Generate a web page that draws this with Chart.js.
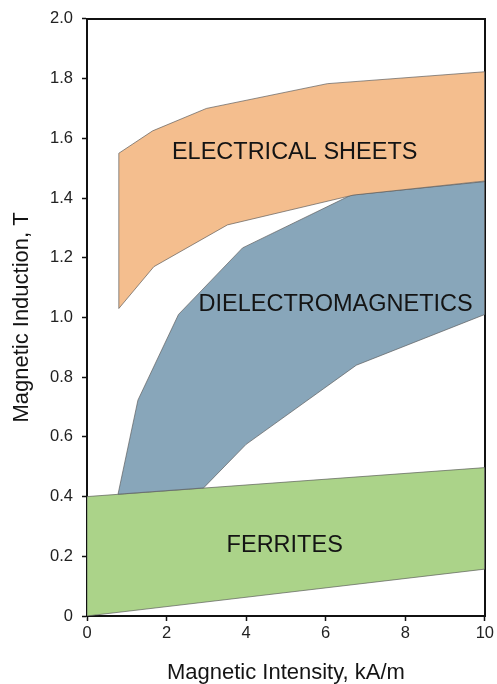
<!DOCTYPE html>
<html>
<head>
<meta charset="utf-8">
<script src="https://cdn.jsdelivr.net/npm/chart.js@4/dist/chart.umd.min.js"></script>
<style>
  html, body { margin: 0; padding: 0; background: #ffffff; }
  #wrap { width: 497px; height: 684px; position: relative; }
</style>
</head>
<body>
<div id="wrap"><canvas id="chart"></canvas></div>
<script>
// Axis ticks
const xTickLabels = ['0', '2', '4', '6', '8', '10'];
const yTickLabels = ['0', '0.2', '0.4', '0.6', '0.8', '1.0', '1.2', '1.4', '1.6', '1.8', '2.0'];

// Electrical sheets band: upper and lower boundary, H in kA/m, B in T
const sheetsUpperH = [0.8, 1.65, 3.0, 6.04, 10];
const sheetsUpperB = [1.55, 1.625, 1.70, 1.783, 1.823];
const sheetsLowerH = [0.8, 1.68, 3.53, 6.7, 10];
const sheetsLowerB = [1.03, 1.17, 1.31, 1.41, 1.457];

// Dielectromagnetics band
const dielUpperH = [0.78, 1.28, 2.3, 3.91, 6.64, 10];
const dielUpperB = [0.408, 0.723, 1.01, 1.233, 1.41, 1.455];
const dielLowerH = [0.78, 2.93, 4.0, 6.77, 10];
const dielLowerB = [0.408, 0.429, 0.575, 0.84, 1.01];

// Ferrites band
const ferritesUpperH = [0, 10];
const ferritesUpperB = [0.40, 0.497];
const ferritesLowerH = [0, 10];
const ferritesLowerB = [0, 0.157];

// Region names
const regionNames = ['ELECTRICAL SHEETS', 'DIELECTROMAGNETICS', 'FERRITES'];

// Closed outline: upper edge left to right, lower edge right to left
function band(upH, upB, loH, loB) {
  const pts = upH.map((h, i) => ({ x: h, y: upB[i] }));
  for (let i = loH.length - 1; i >= 0; i--) pts.push({ x: loH[i], y: loB[i] });
  pts.push({ x: upH[0], y: upB[0] });
  return pts;
}

const FONT = '"Liberation Sans", Arial, Helvetica, sans-serif';
const outline = 'rgba(90,90,90,0.85)';

function region(label, data, color) {
  return {
    label, data,
    fill: 'shape',
    backgroundColor: color,
    borderColor: outline,
    borderWidth: 0.8,
    pointRadius: 0,
    pointHoverRadius: 0,
    tension: 0
  };
}

// Region captions placed in data coordinates
const captionPlugin = {
  id: 'captions',
  afterDatasetsDraw(chart, args, opts) {
    const { ctx, scales: { x, y } } = chart;
    ctx.save();
    ctx.font = opts.size + 'px ' + FONT;
    ctx.fillStyle = '#141414';
    ctx.textAlign = 'center';
    ctx.textBaseline = 'middle';
    opts.items.forEach(it => {
      ctx.fillText(it.text, x.getPixelForValue(it.h), y.getPixelForValue(it.b));
    });
    ctx.restore();
  }
};

new Chart(document.getElementById('chart'), {
  type: 'line',
  data: {
    datasets: [
      region(regionNames[0], band(sheetsUpperH, sheetsUpperB, sheetsLowerH, sheetsLowerB), '#F4BE8E'),
      region(regionNames[1], band(dielUpperH, dielUpperB, dielLowerH, dielLowerB), '#88A6BA'),
      region(regionNames[2], band(ferritesUpperH, ferritesUpperB, ferritesLowerH, ferritesLowerB), '#ABD389')
    ]
  },
  plugins: [captionPlugin],
  options: {
    responsive: true,
    maintainAspectRatio: false,
    animation: false,
    events: [],
    layout: { padding: { left: 0, top: 16, right: 11, bottom: 0 } },
    plugins: {
      legend: { display: false },
      tooltip: { enabled: false },
      captions: {
        size: 23.5,
        items: [
          { text: regionNames[0], h: 5.22, b: 1.552 },
          { text: regionNames[1], h: 6.25, b: 1.042 },
          { text: regionNames[2], h: 4.97, b: 0.237 }
        ]
      }
    },
    scales: {
      x: {
        type: 'linear',
        position: 'bottom',
        min: 0, max: 10,
        afterFit(s) { s.height = 68; },
        ticks: {
          stepSize: 2,
          padding: 3,
          color: '#222',
          font: { family: FONT, size: 16.5 },
          callback: (v) => xTickLabels[Math.round(v / 2)]
        },
        grid: { drawOnChartArea: false, tickLength: 5, color: '#111', tickWidth: 1.5 },
        border: { display: true, color: '#111', width: 2 },
        title: {
          display: true,
          text: 'Magnetic Intensity, kA/m',
          color: '#141414',
          font: { family: FONT, size: 22, lineHeight: 1 },
          padding: { top: 0, bottom: 0.5 }
        }
      },
      y: {
        type: 'linear',
        position: 'left',
        min: 0, max: 2,
        afterFit(s) { s.width = 87; },
        ticks: {
          stepSize: 0.2,
          padding: 9,
          color: '#222',
          font: { family: FONT, size: 16.5 },
          callback: (v) => yTickLabels[Math.round(v / 0.2)]
        },
        grid: { drawOnChartArea: false, tickLength: 5, color: '#111', tickWidth: 1.5 },
        border: { display: true, color: '#111', width: 2 },
        title: {
          display: true,
          text: 'Magnetic Induction, T',
          color: '#141414',
          font: { family: FONT, size: 22, lineHeight: 1 },
          padding: { top: 10.5, bottom: 0 }
        }
      },
      xTop: {
        type: 'linear',
        position: 'top',
        min: 0, max: 10,
        afterFit(s) { s.height = 0; },
        ticks: { display: false },
        grid: { display: false, drawTicks: false },
        border: { display: true, color: '#111', width: 2 }
      },
      yRight: {
        type: 'linear',
        position: 'right',
        min: 0, max: 2,
        afterFit(s) { s.width = 0; },
        ticks: { display: false },
        grid: { display: false, drawTicks: false },
        border: { display: true, color: '#111', width: 2 }
      }
    }
  }
});
</script>
</body>
</html>
